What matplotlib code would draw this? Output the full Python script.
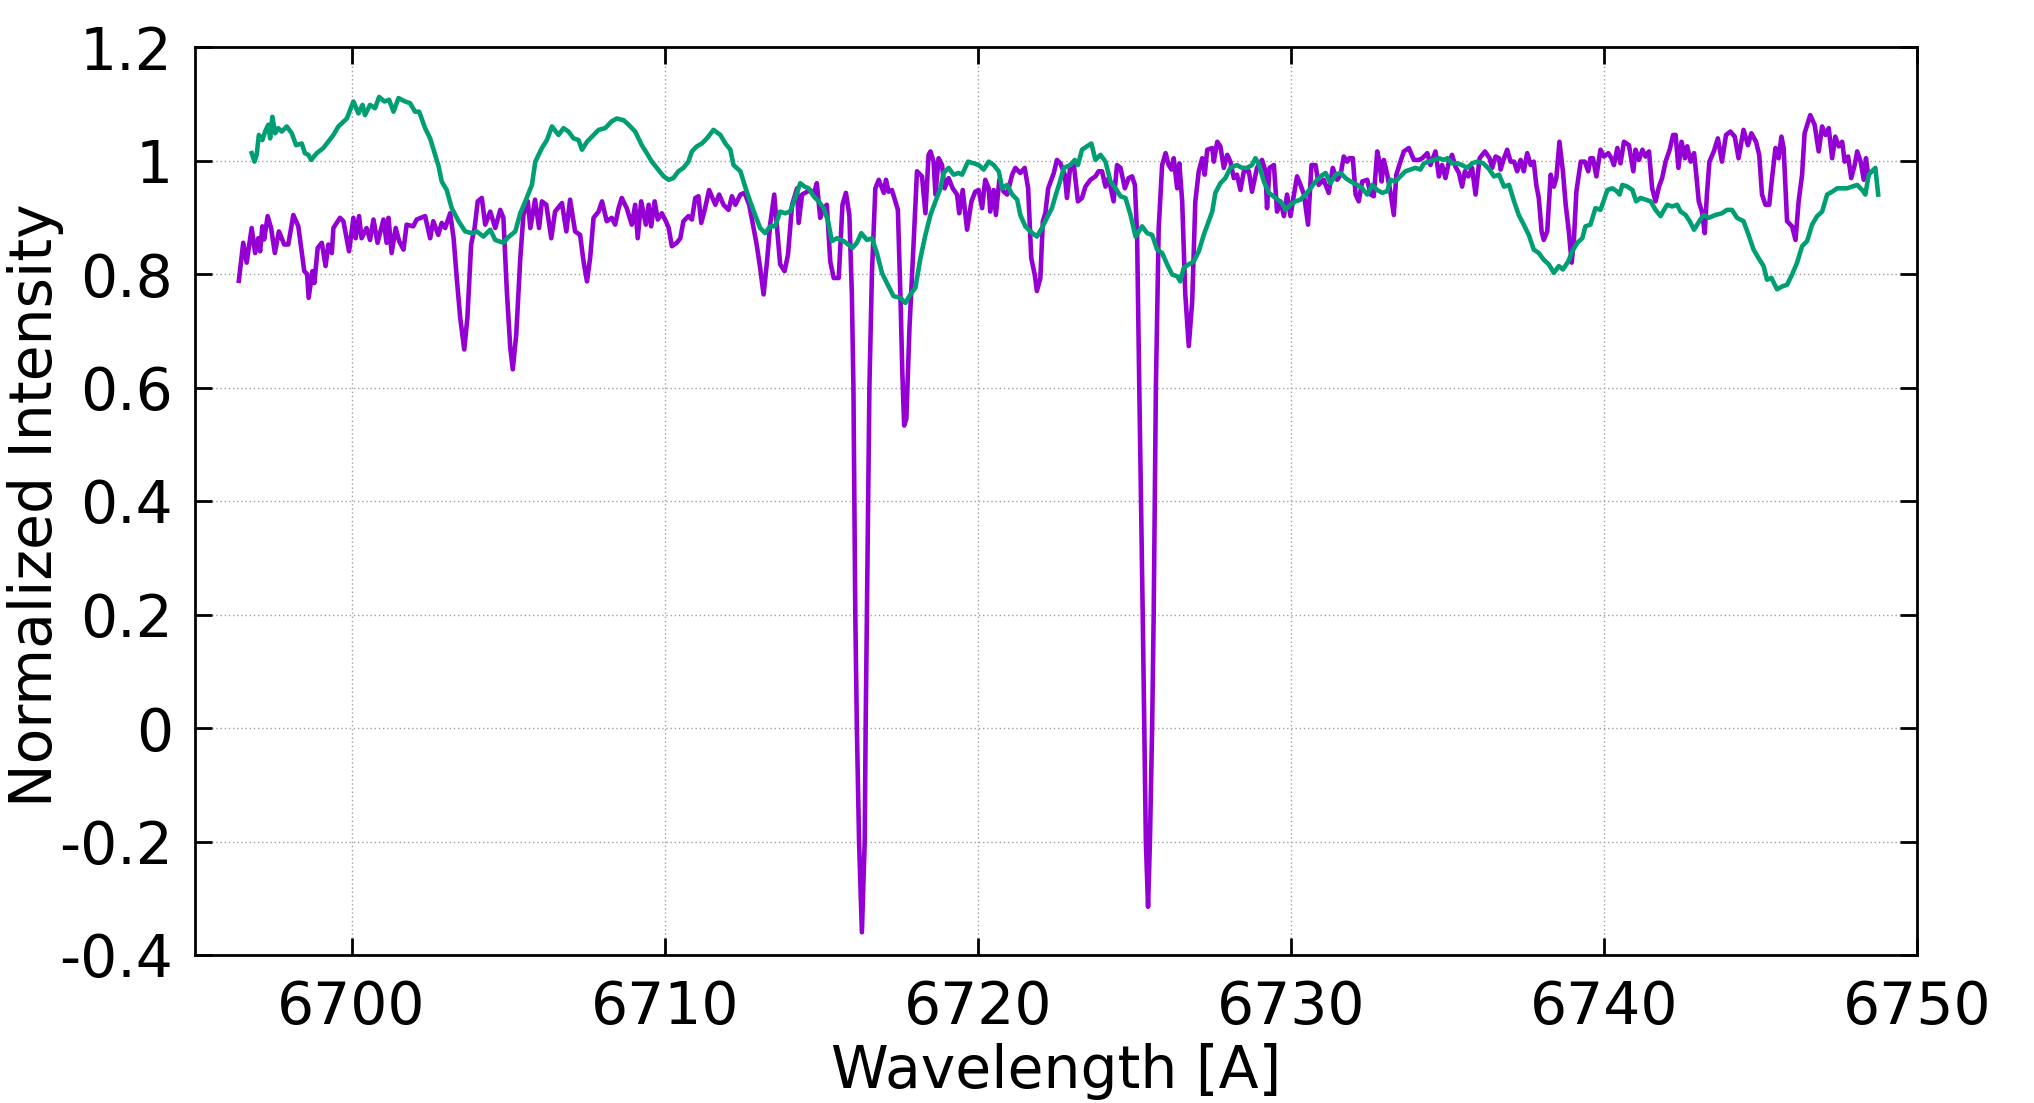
import matplotlib
matplotlib.use("Agg")
import matplotlib.pyplot as plt
from matplotlib.ticker import FuncFormatter

# spectrum 1 (violet), wavelength [A] / normalized intensity
violet_wl = [
    6696.40, 6696.54, 6696.65, 6696.81, 6696.92, 6697.02, 6697.08, 6697.15, 6697.21, 6697.32,
    6697.43, 6697.55, 6697.68, 6697.85, 6697.98, 6698.14, 6698.30, 6698.49, 6698.58, 6698.63,
    6698.75, 6698.81, 6698.92, 6699.05, 6699.17, 6699.26, 6699.37, 6699.42, 6699.63, 6699.74,
    6699.92, 6700.06, 6700.13, 6700.24, 6700.32, 6700.48, 6700.59, 6700.70, 6700.83, 6701.02,
    6701.12, 6701.18, 6701.28, 6701.41, 6701.52, 6701.66, 6701.76, 6701.97, 6702.08, 6702.35,
    6702.51, 6702.61, 6702.77, 6702.88, 6702.99, 6703.15, 6703.26, 6703.36, 6703.47, 6703.60,
    6703.70, 6703.82, 6703.93, 6704.03, 6704.16, 6704.27, 6704.43, 6704.59, 6704.75, 6704.85,
    6704.96, 6705.07, 6705.15, 6705.26, 6705.39, 6705.49, 6705.63, 6705.71, 6705.86, 6705.99,
    6706.08, 6706.22, 6706.38, 6706.50, 6706.72, 6706.86, 6706.98, 6707.14, 6707.30, 6707.41,
    6707.52, 6707.62, 6707.73, 6707.89, 6708.00, 6708.15, 6708.31, 6708.42, 6708.53, 6708.63,
    6708.79, 6708.95, 6709.06, 6709.14, 6709.25, 6709.40, 6709.49, 6709.57, 6709.68, 6709.78,
    6709.91, 6710.04, 6710.13, 6710.23, 6710.39, 6710.50, 6710.60, 6710.76, 6710.87, 6710.98,
    6711.08, 6711.17, 6711.28, 6711.42, 6711.62, 6711.74, 6711.88, 6712.04, 6712.15, 6712.26,
    6712.42, 6712.55, 6712.70, 6712.84, 6712.93, 6713.05, 6713.16, 6713.27, 6713.37, 6713.50,
    6713.61, 6713.69, 6713.83, 6713.94, 6714.07, 6714.23, 6714.28, 6714.39, 6714.55, 6714.65,
    6714.76, 6714.86, 6714.97, 6715.08, 6715.18, 6715.29, 6715.40, 6715.56, 6715.68, 6715.79,
    6715.90, 6715.98, 6716.03, 6716.09, 6716.14, 6716.21, 6716.30, 6716.39, 6716.42, 6716.46,
    6716.54, 6716.62, 6716.73, 6716.84, 6717.00, 6717.07, 6717.15, 6717.26, 6717.37, 6717.45,
    6717.53, 6717.59, 6717.65, 6717.72, 6717.82, 6717.95, 6718.06, 6718.22, 6718.33, 6718.43,
    6718.49, 6718.59, 6718.65, 6718.75, 6718.86, 6718.94, 6719.07, 6719.20, 6719.34, 6719.41,
    6719.52, 6719.66, 6719.80, 6719.92, 6720.03, 6720.14, 6720.24, 6720.35, 6720.40, 6720.51,
    6720.58, 6720.69, 6720.83, 6720.94, 6721.10, 6721.20, 6721.36, 6721.50, 6721.61, 6721.71,
    6721.82, 6721.89, 6722.00, 6722.08, 6722.16, 6722.25, 6722.43, 6722.53, 6722.64, 6722.78,
    6722.85, 6722.96, 6723.07, 6723.20, 6723.33, 6723.44, 6723.60, 6723.76, 6723.86, 6723.97,
    6724.08, 6724.18, 6724.34, 6724.45, 6724.56, 6724.70, 6724.82, 6724.93, 6725.02, 6725.09,
    6725.16, 6725.27, 6725.32, 6725.37, 6725.44, 6725.50, 6725.57, 6725.62, 6725.69, 6725.78,
    6725.89, 6726.00, 6726.10, 6726.19, 6726.26, 6726.37, 6726.44, 6726.53, 6726.63, 6726.74,
    6726.85, 6726.95, 6727.06, 6727.17, 6727.25, 6727.33, 6727.49, 6727.54, 6727.65, 6727.75,
    6727.86, 6727.97, 6728.07, 6728.18, 6728.28, 6728.39, 6728.50, 6728.66, 6728.76, 6728.92,
    6729.08, 6729.19, 6729.24, 6729.32, 6729.46, 6729.56, 6729.67, 6729.78, 6729.88, 6729.99,
    6730.10, 6730.20, 6730.31, 6730.42, 6730.55, 6730.66, 6730.79, 6730.89, 6731.05, 6731.21,
    6731.34, 6731.48, 6731.59, 6731.69, 6731.80, 6731.87, 6731.98, 6732.07, 6732.17, 6732.28,
    6732.44, 6732.55, 6732.65, 6732.76, 6732.83, 6732.90, 6732.97, 6733.08, 6733.18, 6733.29,
    6733.37, 6733.50, 6733.61, 6733.77, 6733.93, 6734.09, 6734.20, 6734.36, 6734.46, 6734.62,
    6734.73, 6734.83, 6734.94, 6735.05, 6735.15, 6735.26, 6735.37, 6735.47, 6735.56, 6735.67,
    6735.79, 6735.90, 6736.03, 6736.20, 6736.35, 6736.43, 6736.54, 6736.65, 6736.70, 6736.81,
    6736.91, 6737.02, 6737.13, 6737.23, 6737.34, 6737.44, 6737.55, 6737.66, 6737.76, 6737.84,
    6737.92, 6738.01, 6738.08, 6738.19, 6738.30, 6738.40, 6738.48, 6738.58, 6738.69, 6738.78,
    6738.88, 6738.97, 6739.04, 6739.12, 6739.26, 6739.39, 6739.50, 6739.57, 6739.65, 6739.76,
    6739.89, 6740.00, 6740.14, 6740.24, 6740.32, 6740.43, 6740.53, 6740.64, 6740.80, 6740.94,
    6741.01, 6741.12, 6741.23, 6741.33, 6741.44, 6741.54, 6741.65, 6741.76, 6741.86, 6741.97,
    6742.10, 6742.21, 6742.29, 6742.38, 6742.48, 6742.59, 6742.66, 6742.77, 6742.88, 6742.95,
    6743.03, 6743.13, 6743.22, 6743.29, 6743.37, 6743.51, 6743.64, 6743.77, 6743.90, 6744.04,
    6744.18, 6744.30, 6744.46, 6744.60, 6744.71, 6744.86, 6744.96, 6745.05, 6745.16, 6745.28,
    6745.37, 6745.48, 6745.58, 6745.67, 6745.74, 6745.85, 6746.01, 6746.12, 6746.22, 6746.33,
    6746.41, 6746.59, 6746.73, 6746.86, 6746.97, 6747.08, 6747.18, 6747.29, 6747.39, 6747.50,
    6747.61, 6747.69, 6747.80, 6747.90, 6748.01, 6748.09, 6748.20, 6748.30, 6748.37, 6748.44,
]
violet_int = [
    0.788, 0.855, 0.820, 0.881, 0.837, 0.863, 0.840, 0.884, 0.861, 0.902,
    0.881, 0.837, 0.875, 0.852, 0.852, 0.904, 0.884, 0.805, 0.800, 0.758,
    0.805, 0.784, 0.846, 0.855, 0.814, 0.852, 0.837, 0.881, 0.899, 0.893,
    0.840, 0.899, 0.863, 0.902, 0.863, 0.881, 0.860, 0.896, 0.855, 0.896,
    0.855, 0.899, 0.837, 0.881, 0.858, 0.843, 0.887, 0.884, 0.896, 0.902,
    0.863, 0.893, 0.869, 0.890, 0.881, 0.907, 0.863, 0.793, 0.723, 0.667,
    0.723, 0.852, 0.881, 0.928, 0.934, 0.887, 0.910, 0.881, 0.913, 0.899,
    0.770, 0.670, 0.632, 0.693, 0.828, 0.904, 0.928, 0.881, 0.931, 0.881,
    0.928, 0.922, 0.863, 0.910, 0.925, 0.875, 0.931, 0.875, 0.869, 0.822,
    0.787, 0.828, 0.899, 0.910, 0.928, 0.893, 0.899, 0.887, 0.916, 0.934,
    0.916, 0.887, 0.922, 0.863, 0.928, 0.887, 0.922, 0.884, 0.928, 0.896,
    0.907, 0.893, 0.881, 0.849, 0.855, 0.863, 0.893, 0.902, 0.896, 0.934,
    0.937, 0.890, 0.913, 0.948, 0.922, 0.940, 0.922, 0.913, 0.937, 0.922,
    0.940, 0.943, 0.922, 0.881, 0.855, 0.811, 0.764, 0.822, 0.887, 0.940,
    0.869, 0.817, 0.805, 0.834, 0.922, 0.951, 0.890, 0.940, 0.945, 0.948,
    0.940, 0.960, 0.899, 0.916, 0.922, 0.822, 0.793, 0.793, 0.922, 0.943,
    0.904, 0.764, 0.600, 0.200, 0.000, -0.200, -0.360, -0.200, 0.000, 0.200,
    0.600, 0.800, 0.951, 0.966, 0.943, 0.966, 0.945, 0.948, 0.928, 0.913,
    0.764, 0.630, 0.533, 0.545, 0.705, 0.852, 0.981, 0.972, 0.907, 1.010,
    1.016, 0.998, 0.940, 1.004, 0.992, 0.951, 0.969, 0.951, 0.940, 0.907,
    0.948, 0.878, 0.928, 0.945, 0.948, 0.916, 0.966, 0.951, 0.910, 0.948,
    0.904, 0.966, 0.945, 0.940, 0.975, 0.987, 0.978, 0.987, 0.951, 0.828,
    0.799, 0.770, 0.793, 0.893, 0.907, 0.951, 0.978, 1.001, 0.995, 0.975,
    0.934, 0.992, 0.992, 0.928, 0.934, 0.954, 0.966, 0.972, 0.981, 0.981,
    0.954, 0.969, 0.928, 0.992, 0.987, 0.951, 0.969, 0.972, 0.957, 0.869,
    0.600, 0.200, 0.000, -0.200, -0.315, -0.200, 0.000, 0.200, 0.600, 0.881,
    0.992, 1.013, 0.992, 0.984, 1.004, 0.951, 0.995, 0.928, 0.764, 0.673,
    0.752, 0.928, 0.981, 1.004, 0.975, 1.019, 1.022, 0.998, 1.033, 1.025,
    0.987, 1.010, 0.998, 0.969, 0.975, 0.948, 0.981, 0.981, 0.945, 0.987,
    1.001, 0.981, 0.916, 0.987, 0.992, 0.910, 0.928, 0.902, 0.940, 0.902,
    0.940, 0.972, 0.957, 0.940, 0.887, 0.992, 0.992, 0.957, 0.966, 0.943,
    0.987, 0.966, 0.975, 1.007, 0.998, 1.004, 1.004, 0.940, 0.928, 0.963,
    0.966, 0.940, 0.937, 1.016, 0.998, 0.963, 1.001, 0.975, 0.945, 0.904,
    0.975, 0.998, 1.016, 1.022, 1.001, 1.001, 1.004, 1.013, 0.992, 1.016,
    0.972, 0.992, 0.969, 0.998, 1.010, 0.989, 0.978, 0.954, 0.981, 0.972,
    0.987, 0.940, 1.004, 1.016, 1.004, 0.987, 1.007, 1.004, 0.984, 1.004,
    1.019, 0.998, 0.998, 0.981, 1.001, 0.981, 1.013, 0.992, 0.998, 0.957,
    0.934, 0.875, 0.860, 0.875, 0.975, 0.954, 0.969, 1.033, 0.981, 0.922,
    0.875, 0.820, 0.858, 0.945, 0.998, 0.998, 0.981, 1.004, 1.004, 0.972,
    1.019, 1.007, 1.013, 1.004, 0.992, 1.022, 0.995, 1.033, 1.027, 0.981,
    1.019, 1.001, 1.019, 1.007, 1.016, 0.951, 0.928, 0.954, 0.969, 0.998,
    1.019, 1.045, 1.045, 0.987, 1.033, 1.004, 1.025, 0.998, 1.013, 0.975,
    0.928, 0.910, 0.872, 0.940, 0.998, 1.016, 1.039, 0.998, 1.045, 1.051,
    1.042, 1.004, 1.054, 1.027, 1.048, 1.033, 1.010, 0.940, 0.922, 0.922,
    0.969, 1.022, 1.004, 1.042, 1.022, 0.893, 0.884, 0.860, 0.928, 0.975,
    1.048, 1.080, 1.063, 1.016, 1.060, 1.045, 1.057, 1.004, 1.042, 1.025,
    1.033, 0.998, 1.007, 0.969, 0.992, 1.016, 0.998, 0.966, 1.004, 0.975,
]

# spectrum 2 (green)
green_wl = [
    6696.81, 6696.90, 6696.97, 6697.04, 6697.15, 6697.24, 6697.34, 6697.40, 6697.47, 6697.56,
    6697.66, 6697.77, 6697.93, 6698.09, 6698.23, 6698.41, 6698.51, 6698.62, 6698.71, 6698.89,
    6699.10, 6699.42, 6699.58, 6699.85, 6700.06, 6700.22, 6700.35, 6700.43, 6700.59, 6700.75,
    6700.88, 6701.05, 6701.20, 6701.34, 6701.50, 6701.71, 6701.87, 6702.03, 6702.16, 6702.35,
    6702.51, 6702.67, 6702.78, 6702.88, 6703.04, 6703.20, 6703.42, 6703.63, 6703.84, 6704.00,
    6704.21, 6704.43, 6704.59, 6704.85, 6705.01, 6705.23, 6705.39, 6705.55, 6705.76, 6705.87,
    6706.08, 6706.24, 6706.40, 6706.61, 6706.77, 6706.93, 6707.09, 6707.25, 6707.36, 6707.52,
    6707.68, 6707.89, 6708.10, 6708.31, 6708.47, 6708.69, 6708.85, 6709.06, 6709.27, 6709.43,
    6709.59, 6709.75, 6709.97, 6710.13, 6710.28, 6710.44, 6710.60, 6710.76, 6710.87, 6711.03,
    6711.19, 6711.35, 6711.56, 6711.78, 6711.94, 6712.10, 6712.20, 6712.42, 6712.57, 6712.73,
    6712.89, 6713.05, 6713.21, 6713.37, 6713.53, 6713.69, 6713.85, 6714.01, 6714.17, 6714.33,
    6714.47, 6714.60, 6714.76, 6714.92, 6715.08, 6715.22, 6715.34, 6715.50, 6715.72, 6715.86,
    6716.00, 6716.14, 6716.28, 6716.46, 6716.62, 6716.78, 6716.94, 6717.10, 6717.31, 6717.53,
    6717.69, 6717.85, 6718.01, 6718.17, 6718.33, 6718.49, 6718.65, 6718.81, 6718.91, 6719.07,
    6719.23, 6719.39, 6719.50, 6719.69, 6719.87, 6720.03, 6720.19, 6720.35, 6720.51, 6720.67,
    6720.78, 6720.94, 6721.10, 6721.26, 6721.36, 6721.52, 6721.68, 6721.89, 6722.05, 6722.21,
    6722.37, 6722.48, 6722.61, 6722.75, 6722.96, 6723.10, 6723.20, 6723.33, 6723.49, 6723.63,
    6723.76, 6723.92, 6724.08, 6724.24, 6724.40, 6724.56, 6724.72, 6724.88, 6725.04, 6725.25,
    6725.41, 6725.57, 6725.73, 6725.89, 6726.05, 6726.21, 6726.37, 6726.47, 6726.58, 6726.74,
    6726.90, 6727.06, 6727.22, 6727.38, 6727.49, 6727.59, 6727.75, 6727.91, 6728.07, 6728.28,
    6728.44, 6728.60, 6728.76, 6728.87, 6728.97, 6729.14, 6729.30, 6729.51, 6729.72, 6729.83,
    6729.99, 6730.15, 6730.31, 6730.47, 6730.63, 6730.79, 6730.95, 6731.11, 6731.27, 6731.43,
    6731.59, 6731.75, 6731.91, 6732.12, 6732.28, 6732.44, 6732.60, 6732.76, 6732.92, 6733.08,
    6733.18, 6733.34, 6733.50, 6733.66, 6733.82, 6733.98, 6734.14, 6734.25, 6734.41, 6734.57,
    6734.73, 6734.89, 6735.00, 6735.15, 6735.31, 6735.47, 6735.63, 6735.79, 6735.95, 6736.15,
    6736.33, 6736.49, 6736.65, 6736.81, 6736.97, 6737.13, 6737.28, 6737.44, 6737.60, 6737.76,
    6737.92, 6738.08, 6738.24, 6738.40, 6738.56, 6738.69, 6738.86, 6738.99, 6739.15, 6739.31,
    6739.41, 6739.57, 6739.73, 6739.89, 6740.00, 6740.11, 6740.27, 6740.43, 6740.50, 6740.59,
    6740.75, 6740.91, 6741.03, 6741.17, 6741.33, 6741.49, 6741.65, 6741.81, 6741.92, 6742.02,
    6742.18, 6742.34, 6742.45, 6742.61, 6742.74, 6742.88, 6743.08, 6743.19, 6743.35, 6743.56,
    6743.77, 6743.93, 6744.09, 6744.25, 6744.46, 6744.62, 6744.78, 6744.94, 6745.10, 6745.21,
    6745.35, 6745.53, 6745.69, 6745.85, 6746.01, 6746.17, 6746.33, 6746.49, 6746.65, 6746.81,
    6746.97, 6747.13, 6747.29, 6747.45, 6747.61, 6747.77, 6747.93, 6748.09, 6748.25, 6748.35,
    6748.46, 6748.56, 6748.67, 6748.76,
]
green_int = [
    1.013, 0.998, 1.010, 1.045, 1.036, 1.051, 1.063, 1.039, 1.077, 1.048,
    1.057, 1.051, 1.060, 1.048, 1.027, 1.030, 1.013, 1.010, 1.001, 1.013,
    1.022, 1.045, 1.060, 1.074, 1.104, 1.083, 1.098, 1.080, 1.098, 1.092,
    1.112, 1.104, 1.107, 1.086, 1.110, 1.104, 1.101, 1.086, 1.086, 1.057,
    1.039, 1.010, 0.990, 0.963, 0.948, 0.916, 0.893, 0.875, 0.872, 0.875,
    0.866, 0.878, 0.860, 0.855, 0.865, 0.875, 0.907, 0.928, 0.957, 0.998,
    1.022, 1.036, 1.060, 1.045, 1.057, 1.051, 1.039, 1.036, 1.019, 1.033,
    1.042, 1.054, 1.057, 1.069, 1.074, 1.071, 1.063, 1.051, 1.027, 1.013,
    0.998, 0.987, 0.972, 0.966, 0.969, 0.981, 0.987, 0.998, 1.016, 1.025,
    1.030, 1.039, 1.054, 1.045, 1.030, 1.019, 0.992, 0.981, 0.954, 0.928,
    0.904, 0.881, 0.872, 0.884, 0.884, 0.910, 0.907, 0.910, 0.934, 0.960,
    0.954, 0.951, 0.937, 0.928, 0.916, 0.893, 0.858, 0.863, 0.858, 0.852,
    0.846, 0.855, 0.872, 0.860, 0.863, 0.837, 0.802, 0.784, 0.761, 0.758,
    0.749, 0.764, 0.776, 0.828, 0.869, 0.904, 0.928, 0.951, 0.978, 0.987,
    0.975, 0.978, 0.975, 0.998, 0.995, 0.992, 0.984, 0.998, 0.992, 0.981,
    0.951, 0.957, 0.940, 0.931, 0.904, 0.884, 0.875, 0.866, 0.881, 0.899,
    0.916, 0.937, 0.960, 0.987, 0.992, 1.001, 0.992, 1.019, 1.025, 1.030,
    1.001, 1.010, 0.998, 0.963, 0.951, 0.937, 0.934, 0.904, 0.866, 0.884,
    0.872, 0.869, 0.843, 0.837, 0.817, 0.799, 0.796, 0.787, 0.811, 0.817,
    0.822, 0.840, 0.869, 0.893, 0.910, 0.943, 0.960, 0.969, 0.987, 0.992,
    0.987, 0.987, 0.992, 1.004, 0.995, 0.963, 0.943, 0.934, 0.925, 0.913,
    0.922, 0.928, 0.931, 0.940, 0.951, 0.963, 0.972, 0.978, 0.960, 0.975,
    0.978, 0.969, 0.963, 0.957, 0.951, 0.940, 0.957, 0.948, 0.943, 0.946,
    0.966, 0.963, 0.972, 0.981, 0.984, 0.987, 0.984, 0.995, 0.998, 1.001,
    1.004, 1.001, 1.004, 0.995, 0.995, 0.992, 0.987, 0.995, 0.998, 0.995,
    0.985, 0.972, 0.975, 0.954, 0.957, 0.928, 0.904, 0.887, 0.869, 0.843,
    0.837, 0.825, 0.817, 0.802, 0.814, 0.808, 0.822, 0.840, 0.855, 0.863,
    0.884, 0.887, 0.916, 0.913, 0.930, 0.948, 0.951, 0.945, 0.940, 0.957,
    0.954, 0.948, 0.928, 0.934, 0.931, 0.928, 0.913, 0.902, 0.913, 0.922,
    0.919, 0.922, 0.910, 0.904, 0.893, 0.878, 0.896, 0.904, 0.899, 0.904,
    0.907, 0.913, 0.913, 0.899, 0.893, 0.869, 0.843, 0.828, 0.814, 0.790,
    0.793, 0.773, 0.778, 0.781, 0.799, 0.820, 0.849, 0.858, 0.887, 0.902,
    0.910, 0.940, 0.945, 0.951, 0.951, 0.951, 0.954, 0.957, 0.948, 0.940,
    0.975, 0.981, 0.987, 0.940,
]

x_ticks = [6700, 6710, 6720, 6730, 6740, 6750]
y_ticks = [-0.4, -0.2, 0, 0.2, 0.4, 0.6, 0.8, 1, 1.2]

plt.rcParams['font.family'] = ['DejaVu Sans']
plt.rcParams['axes.unicode_minus'] = False

fig = plt.figure(figsize=(20.34, 11.03), dpi=100)
ax = fig.add_axes([195 / 2034, 1 - 955 / 1103, 1722 / 2034, 908 / 1103])

ax.plot(violet_wl, violet_int, color='#9400D3', lw=3.3, solid_joinstyle='round')
ax.plot(green_wl, green_int, color='#009E73', lw=3.3, solid_joinstyle='round')

ax.set_xlim(6695, 6750)
ax.set_ylim(-0.4, 1.2)
ax.set_xticks(x_ticks)
ax.set_yticks(y_ticks)
ax.yaxis.set_major_formatter(FuncFormatter(lambda v, p: '%g' % round(v, 2)))

ax.grid(True, color='#a0a0a0', lw=1.0, linestyle=(0, (1, 2)))
ax.tick_params(direction='in', length=12, width=2, labelsize=42,
               top=True, right=True, pad=16)
ax.tick_params(axis='x', pad=17)
for s in ax.spines.values():
    s.set_linewidth(2)

fig.text(1056 / 2034, 1 - 1072 / 1103, 'Wavelength [A]', fontsize=42,
         ha='center', va='center')
fig.text(36 / 2034, 1 - 505 / 1103, 'Normalized Intensity', fontsize=42,
         ha='center', va='center', rotation=90)

fig.savefig('out.png', dpi=100)
